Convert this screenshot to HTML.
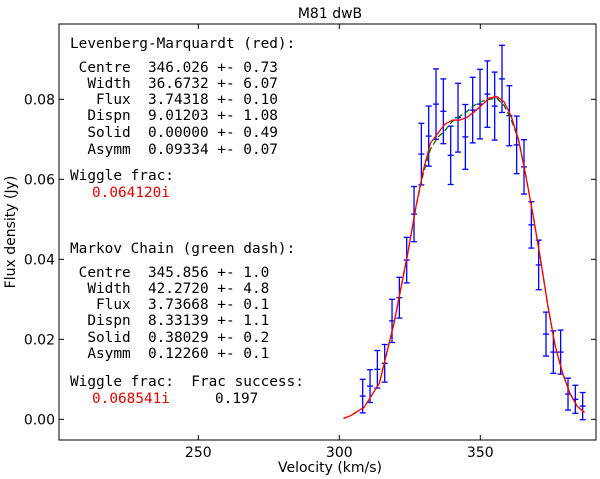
<!DOCTYPE html>
<html><head><meta charset="utf-8"><style>
body{margin:0;background:#fff}
svg{display:block}
.t{font-family:"DejaVu Sans Mono","Liberation Mono",monospace;font-size:14.4px;white-space:pre}
.s{font-family:"DejaVu Sans","Liberation Sans",sans-serif;font-size:14px}
</style></head><body>
<svg id="c" width="600" height="479" viewBox="0 0 600 479">
<text class="s" x="330" y="18" text-anchor="middle" font-size="16">M81 dwB</text>
<g>
<text class="t" x="70" y="48">Levenberg-Marquardt (red):</text>
<text class="t" x="70" y="72"> Centre  346.026 +- 0.73</text>
<text class="t" x="70" y="88">  Width  36.6732 +- 6.07</text>
<text class="t" x="70" y="104">   Flux  3.74318 +- 0.10</text>
<text class="t" x="70" y="120">  Dispn  9.01203 +- 1.08</text>
<text class="t" x="70" y="137">  Solid  0.00000 +- 0.49</text>
<text class="t" x="70" y="154">  Asymm  0.09334 +- 0.07</text>
<text class="t" x="70" y="180">Wiggle frac:</text>
<text class="t" x="92" y="197" fill="#e00000">0.064120i</text>
</g>
<g>
<text class="t" x="70" y="253">Markov Chain (green dash):</text>
<text class="t" x="70" y="277"> Centre  345.856 +- 1.0</text>
<text class="t" x="70" y="293">  Width  42.2720 +- 4.8</text>
<text class="t" x="70" y="309">   Flux  3.73668 +- 0.1</text>
<text class="t" x="70" y="325">  Dispn  8.33139 +- 1.1</text>
<text class="t" x="70" y="342">  Solid  0.38029 +- 0.2</text>
<text class="t" x="70" y="358">  Asymm  0.12260 +- 0.1</text>
<text class="t" x="70" y="386">Wiggle frac:  Frac success:</text>
<text class="t" x="92" y="403" fill="#e00000">0.068541i</text>
<text class="t" x="215" y="403">0.197</text>
</g>
<text class="s" x="330" y="472" text-anchor="middle">Velocity (km/s)</text>
<text class="s" x="0" y="0" text-anchor="middle" transform="translate(15,232) rotate(-90)">Flux density (Jy)</text>
</svg>
<script>
const vel=[308.3,310.9,313.5,316.1,318.7,321.3,323.9,326.5,329.1,331.7,334.3,336.9,339.5,342.1,344.7,347.3,349.9,352.5,355.1,357.7,360.3,362.9,365.5,368.1,370.7,373.3,375.9,378.5,381.1,383.7,386.3];
const flux=[0.0058,0.0083,0.0125,0.014,0.0246,0.0304,0.0398,0.0513,0.0663,0.0708,0.0788,0.077,0.066,0.0754,0.0706,0.0773,0.0788,0.0813,0.0783,0.0851,0.0759,0.0686,0.0631,0.0486,0.0386,0.0213,0.0168,0.0168,0.0063,0.005,0.0033];
const ferr=[0.0042,0.0041,0.0047,0.0047,0.0054,0.0051,0.0057,0.0069,0.0077,0.0075,0.0088,0.0081,0.0073,0.0086,0.0081,0.0082,0.0087,0.0083,0.0085,0.0084,0.0075,0.0072,0.0068,0.0058,0.0062,0.0055,0.0053,0.0055,0.004,0.0035,0.0034];
const redV=[301.5,304,308.8,314.2,319.4,324.5,327.2,329.8,332.3,334.9,337.5,340.1,342.7,345.3,347.9,350.6,353.2,355.8,358.4,361,363.6,366.2,368.8,371.4,374,376.6,379.2,381.8,384.4,387];
const redF=[0.0002,0.0009,0.0030,0.0090,0.0240,0.0423,0.0532,0.0623,0.0690,0.0715,0.0738,0.0748,0.0748,0.0755,0.0769,0.0786,0.0803,0.0807,0.0794,0.0757,0.0698,0.0607,0.0507,0.0398,0.0282,0.0182,0.0115,0.0065,0.0032,0.0017];
const grnV=[301.5,304,308.8,314.2,319.4,324.5,327.2,329.8,332.3,334.9,337.5,340.1,342.7,345.3,347.9,350.6,353.2,355.8,358.4,361,363.6,366.2,368.8,371.4,374,376.6,379.2,381.8,384.4,387];
const grnF=[0.0002,0.0009,0.0030,0.0090,0.0240,0.0423,0.0532,0.0615,0.0675,0.0705,0.0722,0.0745,0.0757,0.0770,0.0785,0.0795,0.0800,0.0803,0.0785,0.0748,0.0698,0.0607,0.0507,0.0398,0.0282,0.0182,0.0115,0.0065,0.0032,0.0017];
const xTicks=[250,300,350];
const yTicks=[0,0.02,0.04,0.06,0.08];
const yLabels=["0.00","0.02","0.04","0.06","0.08"];
const L=59,R=596,T=24,B=440;
const X=v=>339.3+(v-300)*2.82;
const Y=f=>419.3-f*4000;
const svg=document.getElementById('c');
const NS='http://www.w3.org/2000/svg';
function mk(tag,attrs){const e=document.createElementNS(NS,tag);for(const k in attrs)e.setAttribute(k,attrs[k]);svg.appendChild(e);return e;}
xTicks.forEach((v,i)=>{
 const t=mk('line',{x1:X(v),x2:X(v),y1:B,y2:B-5,stroke:'#000'});
 
 
 const t2=mk('line',{x1:X(v),x2:X(v),y1:T,y2:T+5,stroke:'#000'});
 
 
 const l=mk('text',{x:X(v),y:457,'text-anchor':'middle',class:'s'});l.textContent=v;
 
 
});
yTicks.forEach((v,i)=>{
 const t=mk('line',{x1:L,x2:L+5,y1:Y(v),y2:Y(v),stroke:'#000'});
 
 
 const t2=mk('line',{x1:R,x2:R-5,y1:Y(v),y2:Y(v),stroke:'#000'});
 
 
 const l=mk('text',{x:L-4,y:Y(v)+5,'text-anchor':'end',class:'s'});l.textContent=yLabels[i];
 
 
});
const g=mk('g',{stroke:'#0000ff','stroke-width':1.3});


vel.forEach((v,i)=>{
 const x=X(v),y1=Y(flux[i]+ferr[i]),y2=Y(flux[i]-ferr[i]),y=Y(flux[i]);
 [[x,x,y1,y2],[x-3,x+3,y1,y1],[x-3,x+3,y2,y2],[x-3,x+3,y,y]].forEach(a=>{
  const l=document.createElementNS(NS,'line');
  l.setAttribute('x1',a[0]);l.setAttribute('x2',a[1]);l.setAttribute('y1',a[2]);l.setAttribute('y2',a[3]);
  g.appendChild(l);
 });
});
const gp=mk('polyline',{points:grnV.map((v,i)=>X(v)+','+Y(grnF[i])).join(' '),fill:'none',stroke:'#007000','stroke-width':1.3,'stroke-dasharray':'6,3'});


const rp=mk('polyline',{points:redV.map((v,i)=>X(v)+','+Y(redF[i])).join(' '),fill:'none',stroke:'#ff0000','stroke-width':1.3});


const fr=mk('rect',{x:L,y:T,width:R-L,height:B-T,fill:'none',stroke:'#000'});


</script>
</body></html>
